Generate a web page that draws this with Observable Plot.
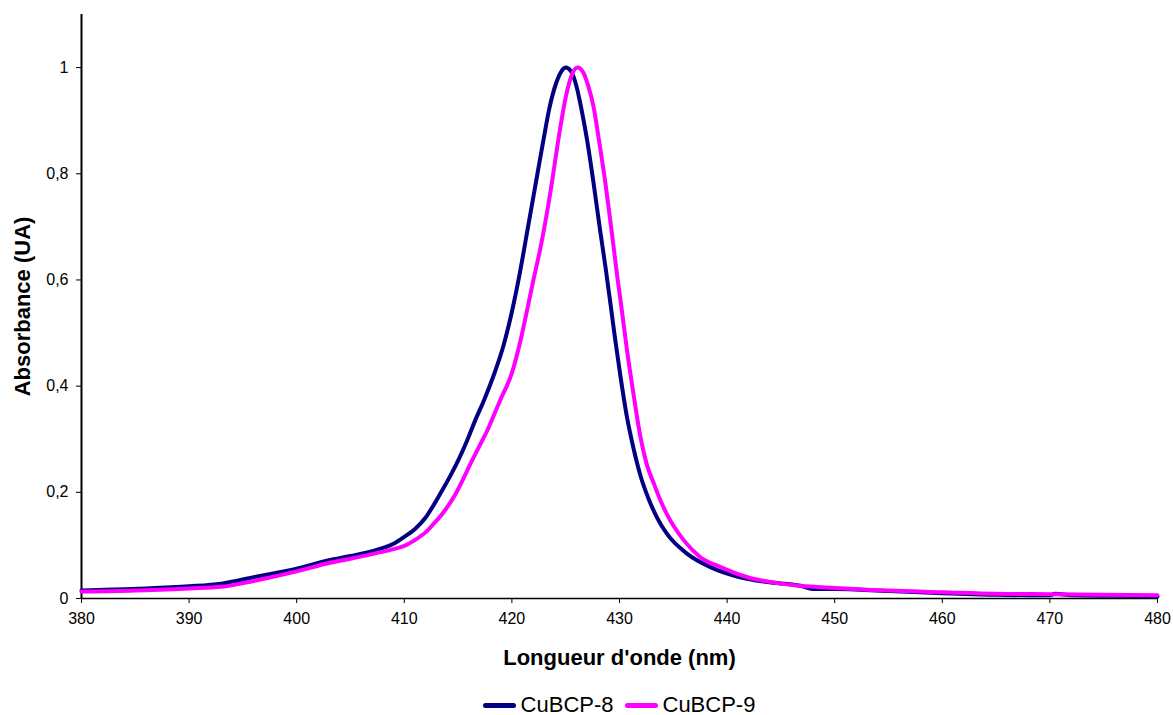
<!DOCTYPE html>
<html>
<head>
<meta charset="utf-8">
<script src="https://cdn.jsdelivr.net/npm/d3@7"></script>
<script src="https://cdn.jsdelivr.net/npm/@observablehq/plot@0.6"></script>
<style>
  html, body { margin: 0; padding: 0; background: #fff; }
  #wrap { position: relative; width: 1173px; height: 715px; font-family: "Liberation Sans", Arial, sans-serif; }
  #legend { position: absolute; left: 81px; width: 1076px; top: 692px; height: 26px; display: flex; justify-content: center; align-items: center; font-size: 22px; color: #000; }
  .item { display: flex; align-items: center; }
  .sw { display: inline-block; width: 33px; height: 5px; border-radius: 3px; margin-right: 5px; }
</style>
</head>
<body>
<div id="wrap">
  <div id="chart"></div>
  <div id="legend"></div>
</div>
<script>
// Series names and colours
const seriesNames = ["CuBCP-8", "CuBCP-9"];
const seriesColors = ["#000080", "#FF00FF"];

// CuBCP-8 : wavelength (nm) and absorbance (UA)
const wl8 = [380, 383, 386, 390, 393, 396, 400, 403, 405, 407.5, 409, 410, 411, 412, 412.7, 413.5, 414.3, 415.1, 415.85, 416.6, 417.4, 418.3, 419.2, 420.0, 420.8, 421.5, 422.2, 422.9, 423.5, 424.1, 424.6, 425.0, 425.5, 426.0, 426.5, 427.0, 427.6, 428.2, 428.7, 429.2, 429.6, 430.1, 430.7, 431.3, 432.0, 432.7, 433.5, 434.4, 436.3, 438.45, 441.2, 443.7, 446.8, 448, 450, 455, 460, 465, 470, 470.5, 472, 476, 480];
const abs8 = [0.015, 0.017, 0.019, 0.023, 0.028, 0.040, 0.056, 0.072, 0.080, 0.092, 0.103, 0.116, 0.131, 0.153, 0.175, 0.203, 0.232, 0.264, 0.298, 0.336, 0.373, 0.420, 0.475, 0.540, 0.620, 0.700, 0.780, 0.860, 0.925, 0.970, 0.993, 1.0, 0.993, 0.965, 0.918, 0.862, 0.781, 0.693, 0.624, 0.549, 0.488, 0.417, 0.341, 0.283, 0.228, 0.188, 0.152, 0.122, 0.084, 0.059, 0.040, 0.031, 0.024, 0.018, 0.018, 0.014, 0.010, 0.007, 0.006, 0.009, 0.006, 0.005, 0.004];

// CuBCP-9 : wavelength (nm) and absorbance (UA)
const wl9 = [380, 385, 390, 393, 396, 400, 403, 405, 407.5, 409, 410, 410.9, 412, 412.74, 413.7, 414.6, 415.4, 416.15, 417.0, 417.7, 418.9, 420.0, 420.8, 421.4, 422.0, 422.7, 423.6, 424.4, 425.0, 425.6, 426.1, 426.6, 427.1, 427.6, 428.1, 428.7, 429.3, 429.8, 430.1, 430.7, 431.3, 431.95, 432.5, 433.2, 433.8, 434.4, 436.0, 437.5, 439.4, 441.9, 444.65, 446.8, 450, 455, 460, 465, 470, 475, 480];
const abs9 = [0.013, 0.015, 0.019, 0.022, 0.033, 0.051, 0.067, 0.075, 0.086, 0.093, 0.099, 0.109, 0.125, 0.141, 0.164, 0.191, 0.222, 0.254, 0.288, 0.316, 0.373, 0.425, 0.486, 0.542, 0.600, 0.665, 0.768, 0.875, 0.944, 0.988, 1.0, 0.992, 0.965, 0.925, 0.862, 0.781, 0.687, 0.605, 0.561, 0.467, 0.385, 0.304, 0.255, 0.216, 0.185, 0.159, 0.109, 0.078, 0.059, 0.040, 0.029, 0.024, 0.020, 0.015, 0.012, 0.009, 0.008, 0.007, 0.006];

// Axis ticks and labels
const xTicks = [380, 390, 400, 410, 420, 430, 440, 450, 460, 470, 480];
const yTicks = [0, 0.2, 0.4, 0.6, 0.8, 1];
const yTickLabels = ["0", "0,2", "0,4", "0,6", "0,8", "1"];
const xTitle = "Longueur d'onde (nm)";
const yTitle = "Absorbance (UA)";

const data8 = wl8.map((w, i) => ({wl: w, a: abs8[i]}));
const data9 = wl9.map((w, i) => ({wl: w, a: abs9[i]}));

const chart = Plot.plot({
  width: 1173,
  height: 690,
  marginLeft: 81,
  marginRight: 16,
  marginTop: 14,
  marginBottom: 92,
  style: {fontFamily: "'Liberation Sans', Arial, sans-serif", fontSize: "16px", color: "#000", background: "#fff"},
  x: {domain: [380, 480]},
  y: {domain: [0, 1.1]},
  marks: [
    Plot.axisX({ticks: xTicks, tickSize: 5, tickPadding: 9, fontSize: 16, label: null, tickFormat: d => String(d)}),
    Plot.axisY({ticks: yTicks, tickSize: 5, tickPadding: 8, fontSize: 16, label: null, tickFormat: d => yTickLabels[yTicks.indexOf(d)]}),
    Plot.ruleX([380], {stroke: "#000", strokeWidth: 2}),
    Plot.ruleY([0], {stroke: "#000", strokeWidth: 1.5}),
    Plot.line(data8, {x: "wl", y: "a", stroke: seriesColors[0], strokeWidth: 4, curve: "monotone-x"}),
    Plot.line(data9, {x: "wl", y: "a", stroke: seriesColors[1], strokeWidth: 4, curve: "monotone-x"}),
    Plot.text([xTitle], {frameAnchor: "bottom", lineAnchor: "middle", textAnchor: "middle", dy: 59, fontSize: 22, fontWeight: "bold", fill: "#000"}),
    Plot.text([yTitle], {frameAnchor: "left", lineAnchor: "middle", textAnchor: "middle", dx: -59, rotate: -90, fontSize: 22, fontWeight: "bold", fill: "#000"})
  ]
});
document.getElementById("chart").appendChild(chart);

const legend = document.getElementById("legend");
seriesNames.forEach((name, i) => {
  const item = document.createElement("span");
  item.className = "item";
  item.style.marginRight = i === 0 ? "11px" : "0";
  const sw = document.createElement("span");
  sw.className = "sw";
  sw.style.background = seriesColors[i];
  item.appendChild(sw);
  item.appendChild(document.createTextNode(name));
  legend.appendChild(item);
});
</script>
</body>
</html>
